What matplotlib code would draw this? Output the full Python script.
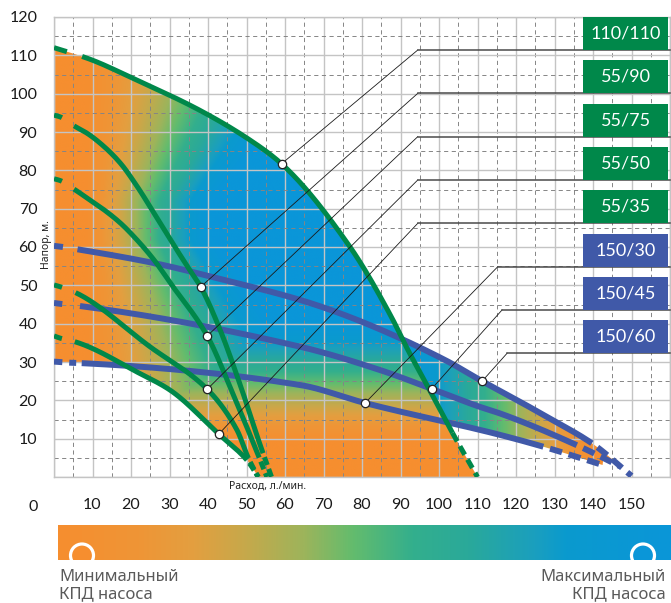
import numpy as np
import matplotlib
matplotlib.use("Agg")
import matplotlib.pyplot as plt
from matplotlib.colors import LinearSegmentedColormap
from matplotlib.patches import Polygon, Rectangle, Circle

plt.rcParams['font.family'] = ['Lato', 'Noto Sans', 'DejaVu Sans']
plt.rcParams['lines.scale_dashes'] = False

# --- данные (расход л/мин -> напор м) ---
q_110_110 = [0, 9.3, 20.5, 37.8, 50.9, 59.1, 76.9, 87.5, 92, 97.5, 103.5, 110]
h_110_110 = [112, 109, 104, 95.7, 87.9, 81.7, 60, 42, 33, 22.8, 11.5, 0]

q_55_90 = [0, 1.7, 5.2, 8.7, 13, 17.3, 21.6, 26, 30.3, 34.6, 38.1, 43.1, 48.2, 53.5, 56.5]
h_55_90 = [94.4, 93.9, 91.6, 89.6, 86.2, 81.8, 75.8, 68.8, 61.8, 55, 49.6, 38.5, 24.5, 8.5, 0]

q_55_75 = [0, 1.7, 5.2, 8.7, 13, 17.3, 21.6, 26, 30.3, 39.8, 45.7, 51.8, 55.3]
h_55_75 = [77.8, 77.3, 75.1, 72.7, 69.7, 66.2, 61.8, 56.6, 50.5, 36.8, 23.6, 8.8, 0]

q_55_50 = [0, 1.7, 5.6, 24.9, 39.8, 47.5, 50.5, 53]
h_55_50 = [50.1, 49.6, 48.1, 34, 22.9, 12.3, 4.9, 0]

q_55_35 = [0, 1.7, 5.4, 22.3, 30.1, 42.8, 50.1, 53.1]
h_55_35 = [36.8, 36.2, 35.3, 27, 22.7, 11.2, 4.4, 0]

q_150_60 = [0, 2.3, 6.1, 26, 44.2, 63.9, 76.9, 101.6, 111.2, 120.2, 128, 139.7, 150]
h_150_60 = [60.3, 60, 59.4, 55.8, 51.4, 46.2, 41.7, 30.5, 25.0, 20.1, 15.7, 8.8, 0.3]

q_150_45 = [0, 2.3, 6.75, 63.9, 84.7, 98.1, 110.6, 115.8, 135.8, 147]
h_150_45 = [45.4, 45.1, 44.6, 34, 27.9, 23, 18.3, 16.6, 8.3, 2.8]

q_150_30 = [0, 4.6, 7.2, 63.9, 80.8, 115.8, 127.1, 142.6]
h_150_30 = [30.1, 29.8, 29.7, 24, 19.3, 11, 7.9, 3.1]

labels = ['110/110', '55/90', '55/75', '55/50', '55/35', '150/30', '150/45', '150/60']
# расход в отмеченной точке каждой кривой
q_mark = [59.1, 38.1, 39.8, 39.8, 42.8, 80.8, 98.1, 111.2]

x_tick_labels = ['', '10', '20', '30', '40', '50', '60', '70', '80', '90',
                 '100', '110', '120', '130', '140', '150', '']
y_tick_labels = ['', '10', '20', '30', '40', '50', '60', '70', '80', '90',
                 '100', '110', '120']

green = '#00884a'
blue = '#4059a8'

kpd = LinearSegmentedColormap.from_list('kpd', [
    (0.00, '#f68e2f'), (0.13, '#ef9536'), (0.22, '#e39f40'), (0.30, '#c8a84a'),
    (0.40, '#9db45b'), (0.48, '#64bc6d'), (0.58, '#33af8d'), (0.67, '#2aa99a'),
    (0.78, '#1a9fbf'), (0.83, '#0a9ace'), (1.00, '#0a96d8')])


def pchip(x, y, xn):
    x = np.asarray(x, float)
    y = np.asarray(y, float)
    xn = np.asarray(xn, float)
    h = np.diff(x)
    d = np.diff(y) / h
    m = np.zeros_like(y)
    for k in range(1, len(x) - 1):
        if d[k - 1] * d[k] > 0:
            w1 = 2 * h[k] + h[k - 1]
            w2 = h[k] + 2 * h[k - 1]
            m[k] = (w1 + w2) / (w1 / d[k - 1] + w2 / d[k])
    m[0] = d[0]
    m[-1] = d[-1]
    i = np.clip(np.searchsorted(x, xn) - 1, 0, len(x) - 2)
    t = (xn - x[i]) / h[i]
    h00 = 2 * t**3 - 3 * t**2 + 1
    h10 = t**3 - 2 * t**2 + t
    h01 = -2 * t**3 + 3 * t**2
    h11 = t**3 - t**2
    return h00 * y[i] + h10 * h[i] * m[i] + h01 * y[i + 1] + h11 * h[i] * m[i + 1]


fig = plt.figure(figsize=(6.71, 6.03), dpi=100)
ax = fig.add_axes([54 / 671, 1 - 477 / 603, 616 / 671, 460 / 603])
ax.set_xlim(0, 160)
ax.set_ylim(0, 120)

# сетка
ax.set_xticks(np.arange(0, 161, 10))
ax.set_xticklabels(x_tick_labels)
ax.set_yticks(np.arange(0, 121, 10))
ax.set_yticklabels(y_tick_labels)
ax.set_xticks(np.arange(5, 160, 10), minor=True)
ax.set_yticks(np.arange(5, 120, 10), minor=True)
ax.grid(which='major', color='#c4c4c4', lw=1.0)
ax.grid(which='minor', color='#858585', lw=0.7, ls=(0, (3, 2.5)))
ax.tick_params(which='both', length=0)
ax.tick_params(axis='x', pad=15, labelsize=11.5, labelcolor='#1a1a1a')
ax.tick_params(axis='y', pad=12, labelsize=11.5, labelcolor='#1a1a1a')
for s in ax.spines.values():
    s.set_color('#c4c4c4')
    s.set_linewidth(1.0)

# поле КПД (заливка)
gx, gy = np.meshgrid(np.linspace(0, 160, 641), np.linspace(0, 120, 481))
w_left = 33 + 0.8 * np.clip(gy - 72, 0, None) + 0.7 * np.clip(62 - gy, 0, None)
t_left = (gx - 8) / w_left
t_right = (141 - gx) / 50
under_top = (gx < 110) & (gy < pchip(q_110_110, h_110_110, np.minimum(gx, 110)))
t_bottom = np.where(under_top, (gy - 9) / 32, 1.0)
field = np.clip(np.minimum(np.minimum(t_left, t_right), t_bottom), 0, 1)

xg = np.linspace(0, 110, 600)
top_g = pchip(q_110_110, h_110_110, xg)
bot_g = np.where(xg <= q_55_35[-1], pchip(q_55_35, h_55_35, np.minimum(xg, q_55_35[-1])), 0)
xb = np.linspace(0, 150, 700)
top_b = pchip(q_150_60, h_150_60, xb)
bot_b = np.where(xb <= q_150_30[-1], pchip(q_150_30, h_150_30, np.minimum(xb, q_150_30[-1])),
                 np.where(xb <= q_150_45[-1], pchip(q_150_45, h_150_45, np.minimum(xb, q_150_45[-1])), top_b))
bot_b = np.minimum(bot_b, top_b)

for xs, top, bot in [(xg, top_g, bot_g), (xb, top_b, bot_b)]:
    verts = np.vstack([np.column_stack([xs, top]), np.column_stack([xs[::-1], bot[::-1]])])
    clip = Polygon(verts, closed=True, transform=ax.transData)
    im = ax.imshow(field, extent=(0, 160, 0, 120), origin='lower', cmap=kpd,
                   vmin=0, vmax=1, aspect='auto', interpolation='bilinear', zorder=1)
    im.set_clip_path(clip)

# кривые насосов: (q, h, цвет, начало и конец сплошной части, штрихи)
curves = [
    (q_110_110, h_110_110, green, 7.3, 103.5, (0, (9.7, 30)), (0, (7, 4))),
    (q_55_90, h_55_90, green, 5.2, 54.3, (0, (6, 30)), (6, (6, 3))),
    (q_55_75, h_55_75, green, 5.2, 53.3, (0, (6, 30)), (6, (6, 3))),
    (q_55_50, h_55_50, green, 5.6, 50.5, (0, (6, 30)), (6, (6, 3))),
    (q_55_35, h_55_35, green, 5.4, 50.1, (0, (6, 30)), (6, (6, 3))),
    (q_150_30, h_150_30, blue, 7.2, 127.1, (0, (6, 5, 5, 30)), (9, (9, 5))),
    (q_150_45, h_150_45, blue, 6.75, 135.8, (0, (6, 30)), (9, (9, 5))),
    (q_150_60, h_150_60, blue, 6.1, 139.7, (0, (6.5, 30)), (9, (9, 5))),
]
for q, h, c, s0, s1, ls_a, ls_b in curves:
    lw = 3.6 if c == green else 4.3
    z = 3.5 if c == green else 3
    xs = np.linspace(s0, s1, 400)
    ax.plot(xs, pchip(q, h, xs), color=c, lw=lw, solid_capstyle='butt', zorder=z)
    xa = np.linspace(q[0], s0, 40)
    ax.plot(xa, pchip(q, h, xa), color=c, lw=lw, ls=ls_a, dash_capstyle='butt', zorder=z)
    xe = np.linspace(s1, q[-1], 60)
    ax.plot(xe, pchip(q, h, xe), color=c, lw=lw, ls=ls_b, dash_capstyle='butt', zorder=z)

# выноски и подписи моделей
box_bottoms = [111.4, 100.1, 88.8, 77.5, 66.2, 54.9, 43.6, 32.3]
lead_x = [94.5, 94.5, 94.5, 94.5, 94.5, 115.3, 116.4, 117.7]
for (q, h, c, *_), lab, qm, yb, lx in zip(curves, labels, q_mark, box_bottoms, lead_x):
    hm = float(pchip(q, h, [qm])[0])
    ax.plot([qm, lx], [hm, yb], color='#1a1a1a', lw=0.6, zorder=5)
    ax.plot([lx, 160], [yb, yb], color='#4a4a4a', lw=1.1, zorder=5, clip_on=False)
    ax.plot(qm, hm, 'o', ms=6, mfc='white', mec='#222222', mew=0.9, zorder=6)
    ax.add_patch(Rectangle((137.4, yb), 22.2, 8.6, facecolor=c, edgecolor='none', zorder=6))
    ax.text(148.5, yb + 4.3, lab, color='white', fontsize=13, ha='center', va='center', zorder=7)

fig.text(46 / 671, 1 - 245 / 603, 'Напор, м.', rotation=90,
         fontsize=7.5, fontweight='bold', color='#222222', ha='center', va='center',
         family=['Noto Sans', 'DejaVu Sans'])
fig.text(268 / 671, 1 - 486 / 603, 'Расход, л./мин.', fontsize=7.5, fontweight='bold',
         color='#222222', ha='center', va='center', family=['Noto Sans', 'DejaVu Sans'])
fig.text(33 / 671, 1 - 507 / 603, '0', fontsize=11.5, color='#1a1a1a', ha='center', va='center')

# шкала КПД
cax = fig.add_axes([58 / 671, 1 - 560 / 603, 613 / 671, 35 / 603])
cax.imshow(np.linspace(0, 1, 512)[None, :], aspect='auto', cmap=kpd,
           extent=(58, 671, 560, 525))
cax.set_xlim(58, 671)
cax.set_ylim(560, 525)
cax.axis('off')
cax.add_patch(Circle((82, 555.5), 11.5, facecolor=kpd(0.0), edgecolor='white', lw=2.3))
cax.add_patch(Circle((643, 555.5), 11.5, facecolor=kpd(1.0), edgecolor='white', lw=2.3))

txt = dict(fontsize=12, color='#5a5a5a', va='baseline', family=['Noto Sans', 'DejaVu Sans'])
fig.text(59 / 671, 1 - 581 / 603, 'Минимальный', ha='left', **txt)
fig.text(59 / 671, 1 - 598 / 603, 'КПД насоса', ha='left', **txt)
fig.text(666 / 671, 1 - 581 / 603, 'Максимальный', ha='right', **txt)
fig.text(666 / 671, 1 - 598 / 603, 'КПД насоса', ha='right', **txt)

fig.savefig('out.png', dpi=100)
